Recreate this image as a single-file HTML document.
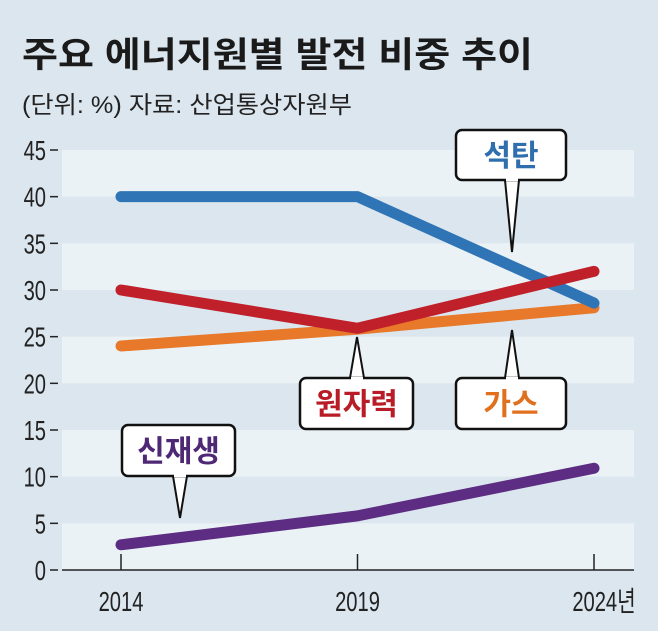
<!DOCTYPE html>
<html><head><meta charset="utf-8"><style>
html,body{margin:0;padding:0;background:#dce6ee;}
svg{display:block;}
text{font-family:"Liberation Sans","Noto Sans CJK KR",sans-serif;}
</style></head><body>
<svg id="chart" width="658" height="631" viewBox="0 0 658 631" xmlns="http://www.w3.org/2000/svg">
<rect x="0" y="0" width="658" height="631" fill="#dce6ee"/>
<text x="22" y="67" font-size="35" font-weight="bold" fill="#1a1a1a" textLength="511" lengthAdjust="spacingAndGlyphs">주요 에너지원별 발전 비중 추이</text>
<text x="22" y="113" font-size="24" fill="#222" textLength="330" lengthAdjust="spacingAndGlyphs">(단위: %) 자료: 산업통상자원부</text>
<g id="bands"></g>
<g id="yaxis"></g>
<g id="xaxis"></g>
<g id="lines"></g>
<g id="callouts"></g>
</svg>
<script>
const years = ["2014","2019","2024"];
const coal = [40, 40, 28.6];
const nuclear = [30, 25.9, 32];
const gas = [24, 25.8, 28.1];
const renewable = [2.7, 5.8, 10.9];
const yTicks = [0,5,10,15,20,25,30,35,40,45];

const NS="http://www.w3.org/2000/svg";
const X0=62, X1=634;
function xs(i){return 121 + i*236.5;}
function ys(v){return 570 - v*(420/45);}
function mk(tag,attrs,parent){const e=document.createElementNS(NS,tag);for(const k in attrs)e.setAttribute(k,attrs[k]);parent.appendChild(e);return e;}
const bands=document.getElementById('bands'),ya=document.getElementById('yaxis'),xa=document.getElementById('xaxis'),ln=document.getElementById('lines'),co=document.getElementById('callouts');

for(let i=0;i<yTicks.length-1;i++){
  if(i%2===0){
    const r=mk('rect',{x:X0,y:ys(yTicks[i+1]),width:X1-X0,height:ys(yTicks[i])-ys(yTicks[i+1]),fill:'#eaf2f6'},bands);
    
    
  }
}
yTicks.forEach(v=>{
  const t=mk('line',{x1:X0-12,x2:X0-4,y1:ys(v),y2:ys(v),stroke:'#222','stroke-width':1.5},ya);
  
  
  const l=mk('text',{x:0,y:0,'font-size':28,'text-anchor':'end',fill:'#222',transform:`translate(${X0-16},${ys(v)+10}) scale(0.72,1)`},ya);
  l.textContent=v;
  
  
});
const ax=mk('line',{x1:X0,x2:X1,y1:570,y2:570,stroke:'#222','stroke-width':1.5},xa);


years.forEach((y,i)=>{
  const t=mk('line',{x1:xs(i),x2:xs(i),y1:554,y2:570,stroke:'#222','stroke-width':1.5},xa);
  
  
  const last=i===years.length-1;
  const l=mk('text',{x:0,y:0,'font-size':28,'text-anchor':'middle',fill:'#222',transform:`translate(${xs(i)+(last?10:0)},${611}) scale(0.72,1)`},xa);
  l.textContent=y+(last?'년':'');
  
  
});
function series(data,color,name,cap){
  const p=mk('polyline',{points:data.map((v,i)=>xs(i)+','+ys(v)).join(' '),fill:'none',stroke:color,'stroke-width':11,'stroke-linecap':cap,'stroke-linejoin':'round'},ln);
  
  
}
series(gas,'#e8782a','gas-line','round');
series(coal,'#2f74b5','coal-line','round');
series(nuclear,'#c0202a','nuclear-line','round');
series(renewable,'#5c2d82','renewable-line','round');

function callout(x,y,w,h,tipX,tipY,label,color,name,down){
  const g=mk('g',{},co);
  
  
  const baseY=down?y+h:y;
  mk('polygon',{points:`${tipX-7},${baseY} ${tipX},${tipY} ${tipX+7},${baseY}`,fill:'#fff',stroke:'#111','stroke-width':2},g);
  mk('rect',{x:x,y:y,width:w,height:h,rx:6,fill:'#fff',stroke:'#111','stroke-width':2.5},g);
  mk('rect',{x:tipX-6,y:down?baseY-3:baseY-1,width:12,height:4,fill:'#fff'},g);
  const t=mk('text',{x:x+w/2,y:y+h/2+11,'font-size':30,'font-weight':'bold','text-anchor':'middle',fill:color},g);
  t.textContent=label;
}
callout(456,130,110,50,512,252,'석탄','#2f6fae','coal-callout',true);
callout(300,378,113,51,357,337,'원자력','#b81c26','nuclear-callout',false);
callout(456,378,110,51,512,330,'가스','#e0701e','gas-callout',false);
callout(122,425,113,51,180,518,'신재생','#4f2875','renewable-callout',true);
</script>
</body></html>
